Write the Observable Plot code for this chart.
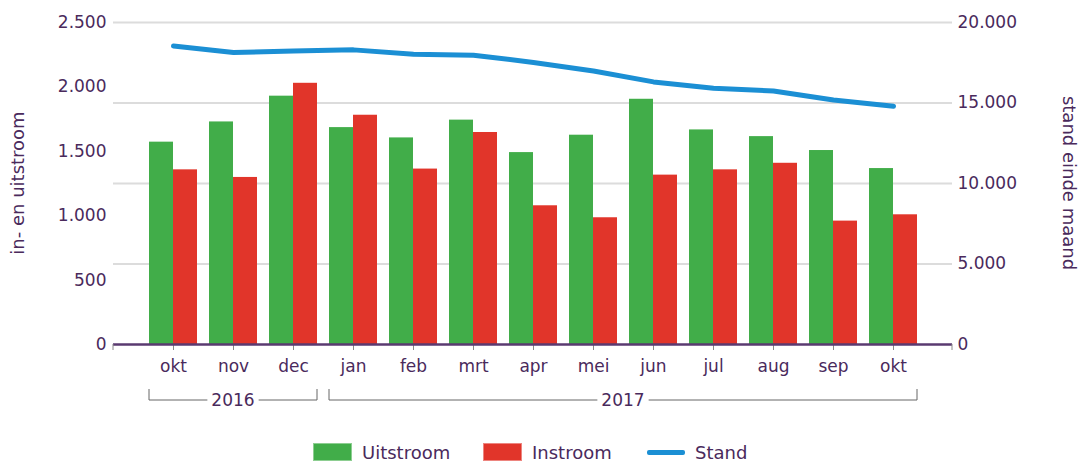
<!DOCTYPE html>
<html><head><meta charset="utf-8">
<script src="https://cdn.jsdelivr.net/npm/d3@7"></script>
<script src="https://cdn.jsdelivr.net/npm/@observablehq/plot@0.6"></script>
<style>
body{margin:0;background:#fff;font-family:"DejaVu Sans",Verdana,sans-serif;color:#4a2a5c;}
#chart svg{display:block;}
#legend{position:relative;height:43px;font-size:18px;}
.item{position:absolute;top:23px;display:flex;align-items:center;height:18px;}
.sw{width:39px;height:18px;margin-right:10px;border:1px solid rgba(255,255,255,0.4);box-sizing:border-box;}
.ln{width:38px;height:5px;border-radius:2px;margin-right:10px;}
</style></head><body>
<div id="chart"></div>
<div id="legend"></div>
<script>
// ---- data ----
const periods = ["2016-10","2016-11","2016-12","2017-01","2017-02","2017-03","2017-04","2017-05","2017-06","2017-07","2017-08","2017-09","2017-10"];
const monthLabels = ["okt","nov","dec","jan","feb","mrt","apr","mei","jun","jul","aug","sep","okt"];
const uitstroom = [1571,1728,1928,1684,1604,1742,1490,1625,1904,1666,1614,1506,1366];
const instroom  = [1356,1297,2028,1780,1362,1646,1077,984,1315,1356,1407,958,1007];
const stand     = [18540,18130,18230,18300,18030,17970,17520,16990,16310,15920,15750,15190,14800];
const leftTicks  = [0,500,1000,1500,2000,2500];
const rightTicks = [0,5000,10000,15000,20000];
const years = ["2016","2017"];
const yearStart = ["2016-10","2017-01"];
const yearEnd   = ["2016-12","2017-10"];
const seriesNames = ["Uitstroom","Instroom","Stand"];
const leftTitle = "in- en uitstroom";
const rightTitle = "stand einde maand";

// ---- styles ----
const green = "#41ad49", red = "#e1352a", blue = "#1b8fd4";
const textColor = "#4a2a5c", axisColor = "#5a3a70";
const nl = d3.formatLocale({decimal:",", thousands:".", grouping:[3], currency:["€",""]});
const fmt = nl.format(",d");
const k = 2500/20000; // right axis to left axis
const labelOf = Object.fromEntries(periods.map((p,i)=>[p, monthLabels[i]]));
const table = periods.map((p,i)=>({p, u: uitstroom[i], ins: instroom[i], s: stand[i]*k}));

const W = 1081, H = 420, MB = 76, MT = 22;
const plot = Plot.plot({
  width: W, height: H,
  marginLeft: 113, marginRight: 129, marginTop: MT, marginBottom: MB,
  style: {fontFamily: "DejaVu Sans", fontSize: "17px", color: textColor, background: "#fff", overflow: "visible"},
  x: {domain: periods, paddingInner: 0.2, paddingOuter: 0.59, axis: null},
  y: {domain: [0,2500], axis: null},
  marks: [
    Plot.ruleY(rightTicks.filter(v=>v>0).map(v=>v*k), {stroke:"#dcdcdc", strokeWidth:2}),
    Plot.barY(table, {x:"p", y:"u", fill: green, insetRight: 24}),
    Plot.barY(table, {x:"p", y:"ins", fill: red, insetLeft: 24}),
    Plot.axisX({tickSize: 6, tickPadding: 9, stroke: "#8a8a8a", fill: textColor, tickFormat: d => labelOf[d], label: null}),
    Plot.ruleY([0], {stroke: axisColor, strokeWidth: 2.5}),
    Plot.axisY(leftTicks, {anchor: "left", tickSize: 0, tickPadding: 7, tickFormat: fmt, fill: textColor, label: null}),
    Plot.axisY(rightTicks.map(v=>v*k), {anchor: "right", tickSize: 0, tickPadding: 5, tickFormat: d => fmt(Math.round(d/k)), fill: textColor, label: null}),
    Plot.lineY(table, {x:"p", y:"s", stroke: blue, strokeWidth: 5, curve: "linear", strokeLinecap: "round", strokeLinejoin: "round"})
  ]
});
document.getElementById("chart").appendChild(plot);

// titles, year brackets and axis end ticks, positioned with Plot's scales
const xs = plot.scale("x");
const bw = xs.bandwidth;
const svg = d3.select(plot);
const y0 = H - MB;
const midY = (MT + y0) / 2;
const g = svg.append("g").attr("font-family","DejaVu Sans").attr("font-size",17).attr("fill",textColor);
g.append("text").attr("transform", `translate(18,${midY}) rotate(-90)`).attr("text-anchor","middle").attr("dy","0.35em").attr("font-size",18).text(leftTitle);
g.append("text").attr("transform", `translate(1069,${midY}) rotate(90)`).attr("text-anchor","middle").attr("dy","0.35em").attr("font-size",18).text(rightTitle);
[113, W - 129].forEach(x => g.append("line").attr("x1", x).attr("x2", x).attr("y1", y0).attr("y2", y0 + 6).attr("stroke", "#8a8a8a"));
const by = 400;
years.forEach((yr, i) => {
  const x1 = xs.apply(yearStart[i]);
  const x2 = xs.apply(yearEnd[i]) + bw;
  g.append("path").attr("d", `M${x1},${by-11}V${by}H${x2}V${by-11}`).attr("fill","none").attr("stroke","#666").attr("stroke-width",1);
  const t = g.append("text").attr("x", (x1+x2)/2).attr("y", by).attr("dy","0.35em").attr("text-anchor","middle").text(yr);
  const w = t.node().getComputedTextLength();
  g.insert("rect", "text:last-of-type").attr("x", (x1+x2)/2 - w/2 - 4).attr("y", by-3).attr("width", w+8).attr("height", 6).attr("fill","#fff");
});

// legend
const leg = document.getElementById("legend");
const cols = [green, red, blue];
const legLeft = [313, 483, 647];
seriesNames.forEach((n,i) => {
  const it = document.createElement("div"); it.className = "item";
  it.style.left = legLeft[i] + "px";
  const s = document.createElement("div");
  s.className = i < 2 ? "sw" : "ln";
  s.style.background = cols[i];
  it.appendChild(s);
  const t = document.createElement("span"); t.textContent = n; it.appendChild(t);
  leg.appendChild(it);
});
</script>
</body></html>
